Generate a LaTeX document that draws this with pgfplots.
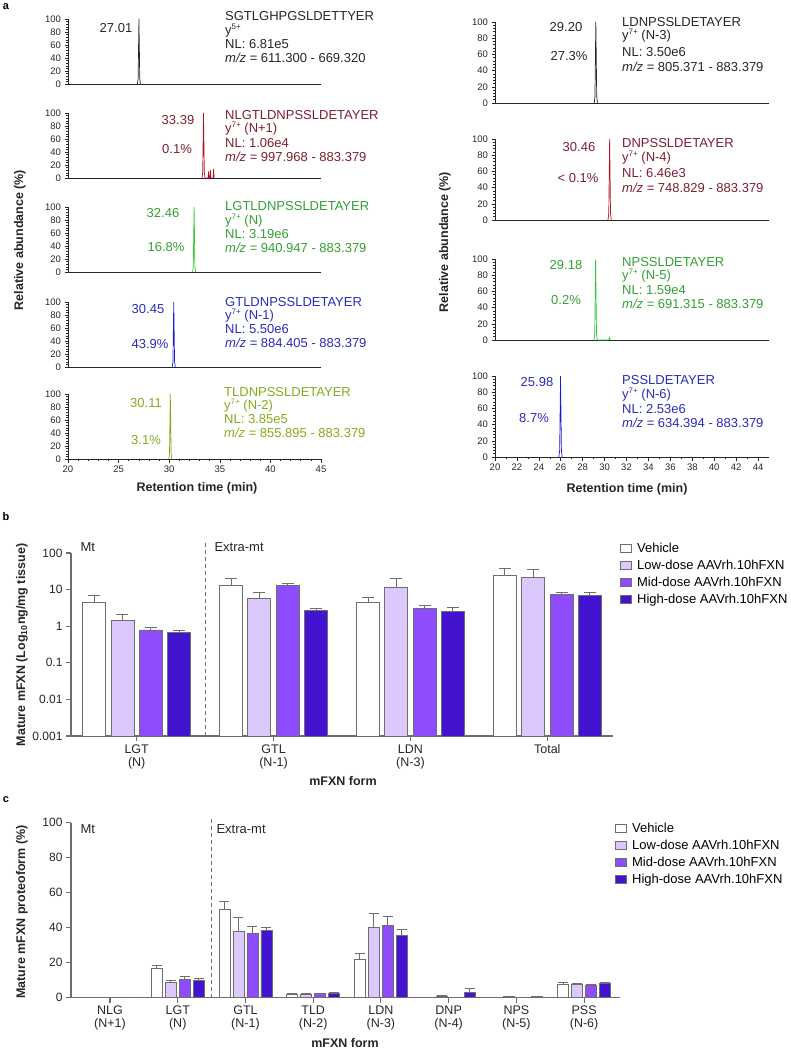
\documentclass[border=0pt]{standalone}
\usepackage{pgfplots}
\pgfplotsset{compat=1.18}
\usepackage{fontspec}
\setmainfont{Liberation Sans}
\definecolor{cdark}{HTML}{262626}
\definecolor{credt}{HTML}{7D1F30}
\definecolor{credp}{HTML}{B0142C}
\definecolor{cgrnt}{HTML}{33A033}
\definecolor{cgrnp}{HTML}{2EC82E}
\definecolor{cblut}{HTML}{2B2BB8}
\definecolor{cblup}{HTML}{1C1CD8}
\definecolor{colvt}{HTML}{86AA1E}
\definecolor{colvp}{HTML}{7CA812}
\definecolor{clow}{HTML}{DCC8FC}
\definecolor{cmid}{HTML}{8E4CFC}
\definecolor{chigh}{HTML}{4314D0}
\definecolor{cedge}{HTML}{6E6E6E}
\newcommand\fa{\fontsize{13}{14}\selectfont}
\newcommand\fl{\fontsize{12.5}{14}\selectfont\bfseries}
\newcommand\ysup[1]{y\raisebox{0.38em}{\fontsize{8}{8}\selectfont #1}}
\pgfplotsset{
 chrombase/.style={scale only axis, anchor=south west, xmin=20, xmax=45, ymin=0, ymax=100,
   axis x line=bottom, axis y line=left, axis line style={-, cdark, line width=0.8pt},
   ytick={0,20,40,60,80,100}, minor y tick num=4, tick align=outside,
   major tick length=3.5pt, minor tick length=2pt, tick style={cdark, line width=0.6pt},
   tick label style={font=\fontsize{9.5}{10}\selectfont, text=cdark},
   /pgf/number format/assume math mode=true, xtick=\empty, enlargelimits=false, clip=false},
 chromL/.style={chrombase, width=253pt, height=65pt},
 chromR/.style={chrombase, width=274pt, height=81pt},
 pk/.style={no marks, line width=0.7pt, #1},
 barbase/.style={scale only axis, anchor=south west, axis x line=bottom, axis y line=left,
   axis line style={-, cedge, line width=1.1pt}, tick align=outside, major tick length=5pt,
   tick style={cedge, line width=1.1pt},
   x tick label style={font=\fontsize{12.5}{13}\selectfont, align=center, text=cdark},
   y tick label style={font=\fontsize{12}{13}\selectfont, text=cdark},
   /pgf/number format/assume math mode=true,
   clip=false, enlargelimits=false,
   legend style={draw=none, fill=none, anchor=north west, font=\fontsize{13}{15}\selectfont,
     row sep=2pt, inner xsep=0pt, inner ysep=0pt, cells={anchor=west}},
   legend image code/.code={\draw[##1, line width=0.9pt] (0pt,-4pt) rectangle (11pt,4pt);}},
 barp/.style n args={3}{ybar, bar width=#1, bar shift=#2, fill=#3, draw=cedge, line width=0.9pt},
 errp/.style={forget plot, draw=none, mark=none,
   error bars/y dir=plus, error bars/y explicit, error bars/error mark=-,
   error bars/error bar style={cedge, line width=0.9pt, solid},
   error bars/error mark options={cedge, line width=0.9pt, mark size=#1, rotate=90, solid}},
}
\begin{document}
\begin{tikzpicture}[x=1pt,y=1pt]
\path[use as bounding box] (0,0) rectangle (791,-1050);
% panel letters
\node[font=\fontsize{11}{12}\selectfont\bfseries] at (6,-7) {a};
\node[font=\fontsize{11}{12}\selectfont\bfseries] at (6,-517) {b};
\node[font=\fontsize{11}{12}\selectfont\bfseries] at (6,-800) {c};

% ---------- panel a, left column ----------
\begin{axis}[chromL, at={(68pt,-84pt)}]
\addplot[pk=cdark] coordinates {(26.86,0)(26.93,8)(26.97,55)(27.01,100)(27.05,55)(27.09,8)(27.16,0)};
\end{axis}
\begin{axis}[chromL, at={(68pt,-178pt)}]
\addplot[pk=credp] coordinates {(33.24,0)(33.31,8)(33.35,55)(33.39,100)(33.43,55)(33.47,8)(33.54,0)(33.84,0)(33.89,10)(33.94,0)(34.02,0)(34.07,12)(34.12,0)(34.34,0)(34.39,14)(34.44,0)};
\end{axis}
\begin{axis}[chromL, at={(68pt,-272pt)}]
\addplot[pk=cgrnp] coordinates {(32.31,0)(32.38,8)(32.42,55)(32.46,100)(32.50,55)(32.54,8)(32.61,0)};
\end{axis}
\begin{axis}[chromL, at={(68pt,-367pt)}]
\addplot[pk=cblup] coordinates {(30.30,0)(30.37,8)(30.41,55)(30.45,100)(30.49,55)(30.53,8)(30.60,0)};
\end{axis}
\begin{axis}[chromL, at={(68pt,-459pt)}, xtick={20,25,30,35,40,45}, minor x tick num=4]
\addplot[pk=colvp] coordinates {(29.96,0)(30.03,8)(30.07,55)(30.11,100)(30.15,55)(30.19,8)(30.26,0)};
\end{axis}

% ---------- panel a, right column ----------
\begin{axis}[chromR, at={(495pt,-103pt)}]
\addplot[pk=cdark] coordinates {(29.05,0)(29.12,8)(29.16,55)(29.20,100)(29.24,55)(29.28,8)(29.35,0)};
\end{axis}
\begin{axis}[chromR, at={(495pt,-220pt)}]
\addplot[pk=credp] coordinates {(30.31,0)(30.38,8)(30.42,55)(30.46,100)(30.50,55)(30.54,8)(30.61,0)};
\end{axis}
\begin{axis}[chromR, at={(495pt,-340pt)}]
\addplot[pk=cgrnp] coordinates {(29.03,0)(29.10,8)(29.14,55)(29.18,100)(29.22,55)(29.26,8)(29.33,0)(30.38,0)(30.45,3)(30.52,0)};
\end{axis}
\begin{axis}[chromR, at={(495pt,-457pt)}, xtick={20,22,...,44}, minor x tick num=1]
\addplot[pk=cblup] coordinates {(25.83,0)(25.90,8)(25.94,55)(25.98,100)(26.02,55)(26.06,8)(26.13,0)};
\end{axis}

% annotations left
\begin{scope}[every node/.style={font=\fa, inner sep=0pt}]
\node[cdark, anchor=base west] at (225,-20.7) {SGTLGHPGSLDETTYER};
\node[cdark, anchor=base west] at (225,-34) {\ysup{5+}};
\node[cdark, anchor=base west] at (225,-48.5) {NL: 6.81e5};
\node[cdark, anchor=base west] at (225,-62.5) {\textit{m/z} = 611.300 - 669.320};
\node[cdark] at (116,-28) {27.01};

\node[credt, anchor=base west] at (225,-119.3) {NLGTLDNPSSLDETAYER};
\node[credt, anchor=base west] at (225,-132.5) {\ysup{7+} (N+1)};
\node[credt, anchor=base west] at (225,-147) {NL: 1.06e4};
\node[credt, anchor=base west] at (225,-161) {\textit{m/z} = 997.968 - 883.379};
\node[credt] at (178,-120) {33.39};
\node[credt] at (177,-149) {0.1\%};

\node[cgrnt, anchor=base west] at (225,-210.7) {LGTLDNPSSLDETAYER};
\node[cgrnt, anchor=base west] at (225,-224) {\ysup{7+} (N)};
\node[cgrnt, anchor=base west] at (225,-238.5) {NL: 3.19e6};
\node[cgrnt, anchor=base west] at (225,-252.5) {\textit{m/z} = 940.947 - 883.379};
\node[cgrnt] at (163,-213) {32.46};
\node[cgrnt] at (166,-247) {16.8\%};

\node[cblut, anchor=base west] at (225,-306) {GTLDNPSSLDETAYER};
\node[cblut, anchor=base west] at (225,-319.3) {\ysup{7+} (N-1)};
\node[cblut, anchor=base west] at (225,-333.8) {NL: 5.50e6};
\node[cblut, anchor=base west] at (225,-347.8) {\textit{m/z} = 884.405 - 883.379};
\node[cblut] at (148,-309) {30.45};
\node[cblut] at (150,-344) {43.9\%};

\node[colvt, anchor=base west] at (224,-396) {TLDNPSSLDETAYER};
\node[colvt, anchor=base west] at (224,-409.3) {\ysup{7+} (N-2)};
\node[colvt, anchor=base west] at (224,-423.8) {NL: 3.85e5};
\node[colvt, anchor=base west] at (224,-437.8) {\textit{m/z} = 855.895 - 883.379};
\node[colvt] at (146,-403) {30.11};
\node[colvt] at (146,-440) {3.1\%};

% annotations right
\node[cdark, anchor=base west] at (622,-26) {LDNPSSLDETAYER};
\node[cdark, anchor=base west] at (622,-39.5) {\ysup{7+} (N-3)};
\node[cdark, anchor=base west] at (622,-56) {NL: 3.50e6};
\node[cdark, anchor=base west] at (622,-71) {\textit{m/z} = 805.371 - 883.379};
\node[cdark] at (566,-27) {29.20};
\node[cdark] at (569,-56) {27.3\%};

\node[credt, anchor=base west] at (622,-147.7) {DNPSSLDETAYER};
\node[credt, anchor=base west] at (622,-161.2) {\ysup{7+} (N-4)};
\node[credt, anchor=base west] at (622,-177.5) {NL: 6.46e3};
\node[credt, anchor=base west] at (622,-192) {\textit{m/z} = 748.829 - 883.379};
\node[credt] at (579,-147) {30.46};
\node[credt] at (578,-178) {< 0.1\%};

\node[cgrnt, anchor=base west] at (622,-266) {NPSSLDETAYER};
\node[cgrnt, anchor=base west] at (622,-279.5) {\ysup{7+} (N-5)};
\node[cgrnt, anchor=base west] at (622,-294.5) {NL: 1.59e4};
\node[cgrnt, anchor=base west] at (622,-308.5) {\textit{m/z} = 691.315 - 883.379};
\node[cgrnt] at (566,-265) {29.18};
\node[cgrnt] at (566,-300) {0.2\%};

\node[cblut, anchor=base west] at (622,-384) {PSSLDETAYER};
\node[cblut, anchor=base west] at (622,-398) {\ysup{7+} (N-6)};
\node[cblut, anchor=base west] at (622,-413.5) {NL: 2.53e6};
\node[cblut, anchor=base west] at (622,-427.5) {\textit{m/z} = 634.394 - 883.379};
\node[cblut] at (537,-382) {25.98};
\node[cblut] at (534,-418) {8.7\%};
\end{scope}

% axis labels panel a
\node[font=\fl, cdark, rotate=90] at (20,-240) {Relative abundance (\%)};
\node[font=\fl, cdark, rotate=90] at (445,-242) {Relative abundance (\%)};
\node[font=\fl, cdark] at (197,-488) {Retention time (min)};
\node[font=\fl, cdark] at (627,-489) {Retention time (min)};

% ---------- panel b ----------
\begin{axis}[barbase, at={(71pt,-736pt)}, width=542pt, height=183pt,
  ymode=log, ymin=0.001, ymax=100, log origin y=infty,
  ytick={0.001,0.01,0.1,1,10,100}, yticklabels={0.001,0.01,0.1,1,10,100},
  yminorticks=false,
  xmin=-0.48, xmax=3.48, xtick={0,1,2,3},
  xticklabels={{LGT\\(N)},{GTL\\(N-1)},{LDN\\(N-3)},{Total}},
  legend style={at={(1.013,1.066)}}]
\addplot[barp={23pt}{-42.5pt}{white}] coordinates {(0,4.6) (1,13.3) (2,4.6) (3,24.5)};
\addlegendentry{\hspace{3pt}Vehicle}
\addplot[barp={23pt}{-14.2pt}{clow}] coordinates {(0,1.43) (1,5.7) (2,11.8) (3,22)};
\addlegendentry{\hspace{3pt}Low-dose AAVrh.10hFXN}
\addplot[barp={23pt}{14.2pt}{cmid}] coordinates {(0,0.79) (1,12.9) (2,3.1) (3,7.45)};
\addlegendentry{\hspace{3pt}Mid-dose AAVrh.10hFXN}
\addplot[barp={23pt}{42.5pt}{chigh}] coordinates {(0,0.67) (1,2.68) (2,2.56) (3,7.0)};
\addlegendentry{\hspace{3pt}High-dose AAVrh.10hFXN}
% upper error bars (x shifted to each bar's centre)
\addplot[errp=6pt] coordinates {(-0.310,4.6) +- (0,2.5) (0.690,13.3) +- (0,6.7) (1.690,4.6) +- (0,1.7) (2.690,24.5) +- (0,12.9)};
\addplot[errp=6pt] coordinates {(-0.104,1.43) +- (0,0.67) (0.896,5.7) +- (0,2.6) (1.896,11.8) +- (0,8.5) (2.896,22) +- (0,13)};
\addplot[errp=6pt] coordinates {(0.104,0.79) +- (0,0.16) (1.104,12.9) +- (0,2.2) (2.104,3.1) +- (0,0.6) (3.104,7.45) +- (0,1.15)};
\addplot[errp=6pt] coordinates {(0.310,0.67) +- (0,0.12) (1.310,2.68) +- (0,0.47) (2.310,2.56) +- (0,0.64) (3.310,7.0) +- (0,1.3)};
\draw[cedge, line width=0.9pt, dash pattern=on 4pt off 3pt] (axis cs:0.5,0.001) -- (axis cs:0.5,200);
\end{axis}
\node[font=\fa, cdark, anchor=west] at (77,-547) {Mt};
\node[font=\fa, cdark, anchor=west] at (211,-547) {Extra-mt};
\node[font=\fl, cdark, rotate=90] at (22,-645) {Mature mFXN (Log\textsubscript{10}ng/mg tissue)};
\node[font=\fl, cdark] at (343,-781) {mFXN form};

% ---------- panel c ----------
\begin{axis}[barbase, at={(71pt,-997.7pt)}, width=549pt, height=175pt,
  ymin=0, ymax=100, ytick={0,20,40,60,80,100},
  xmin=-0.576, xmax=7.53, xtick={0,1,...,7},
  xticklabels={{NLG\\(N+1)},{LGT\\(N)},{GTL\\(N-1)},{TLD\\(N-2)},{LDN\\(N-3)},{DNP\\(N-4)},{NPS\\(N-5)},{PSS\\(N-6)}},
  legend style={at={(0.991,1.01)}}]
\addplot[barp={11pt}{-21pt}{white}] coordinates {(0,0) (1,16.8) (2,50.7) (3,1.9) (4,21.9) (5,0.1) (6,0.1) (7,7.8)};
\addlegendentry{\hspace{3pt}Vehicle}
\addplot[barp={11pt}{-7pt}{clow}] coordinates {(0,0) (1,8.6) (2,38.1) (3,1.9) (4,40.4) (5,0.8) (6,0.5) (7,7.8)};
\addlegendentry{\hspace{3pt}Low-dose AAVrh.10hFXN}
\addplot[barp={11pt}{7pt}{cmid}] coordinates {(0,0) (1,10.5) (2,36.8) (3,2.3) (4,41.5) (5,0.1) (6,0.2) (7,7.0)};
\addlegendentry{\hspace{3pt}Mid-dose AAVrh.10hFXN}
\addplot[barp={11pt}{21pt}{chigh}] coordinates {(0,0) (1,9.7) (2,38.3) (3,2.3) (4,35.6) (5,3.1) (6,0.5) (7,8.0)};
\addlegendentry{\hspace{3pt}High-dose AAVrh.10hFXN}
\addplot[errp=5pt] coordinates {(0.690,16.8) +- (0,1.5) (1.690,50.7) +- (0,4.2) (2.690,1.9) +- (0,0.4) (3.690,21.9) +- (0,3.6) (6.690,7.8) +- (0,0.8)};
\addplot[errp=5pt] coordinates {(0.897,8.6) +- (0,1.5) (1.897,38.1) +- (0,7.6) (2.897,1.9) +- (0,0.4) (3.897,40.4) +- (0,8.0) (4.897,0.8) +- (0,0.3) (5.897,0.5) +- (0,0.2) (6.897,7.8) +- (0,0.6)};
\addplot[errp=5pt] coordinates {(1.103,10.5) +- (0,1.5) (2.103,36.8) +- (0,4.2) (3.103,2.3) +- (0,0.3) (4.103,41.5) +- (0,4.8) (7.103,7.0) +- (0,0.4)};
\addplot[errp=5pt] coordinates {(1.310,9.7) +- (0,1.2) (2.310,38.3) +- (0,2.1) (3.310,2.3) +- (0,0.5) (4.310,35.6) +- (0,3.4) (5.310,3.1) +- (0,2.2) (6.310,0.5) +- (0,0.2) (7.310,8.0) +- (0,0.8)};
\draw[cedge, line width=0.9pt, dash pattern=on 4pt off 3pt] (axis cs:1.5,0) -- (axis cs:1.5,103);
\end{axis}
\node[font=\fa, cdark, anchor=west] at (77,-829) {Mt};
\node[font=\fa, cdark, anchor=west] at (213,-829) {Extra-mt};
\node[font=\fl, cdark, rotate=90] at (22,-912) {Mature mFXN proteoform (\%)};
\node[font=\fl, cdark] at (345,-1043) {mFXN form};
\end{tikzpicture}
\end{document}
